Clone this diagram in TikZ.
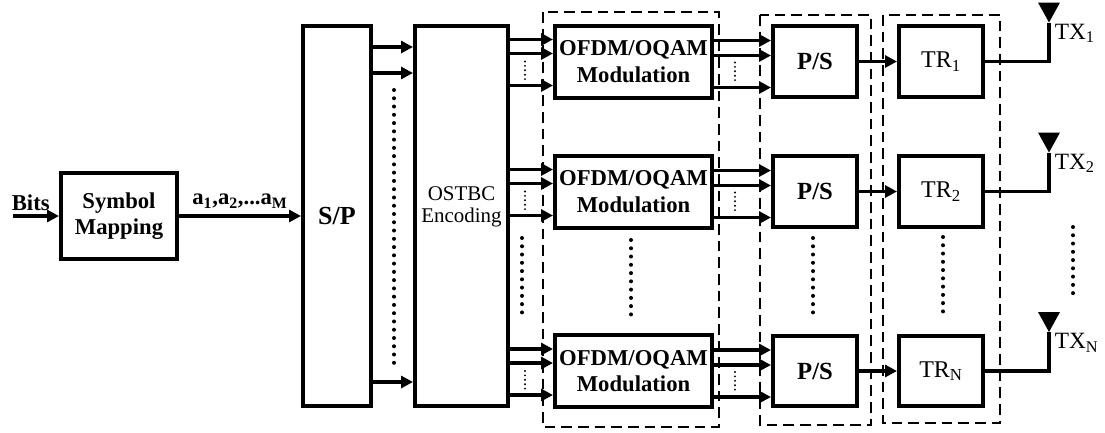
\documentclass[tikz,border=0pt]{standalone}
\usepackage{fontspec}
\setmainfont{Liberation Serif}
\usetikzlibrary{arrows.meta,calc}

\begin{document}
\begin{tikzpicture}[x=0.75pt,y=-0.75pt,line width=2.8pt,
    >={Triangle[length=9pt,width=9pt]},
    blk/.style={draw,line width=3pt,inner sep=0pt,align=center,
      font=\fontsize{17}{20}\selectfont\bfseries},
    lbl/.style={inner sep=0pt,font=\fontsize{17}{20}\selectfont\bfseries},
    grp/.style={draw,line width=2.2pt,dash pattern=on 8pt off 4.5pt},
    vdots/.style={line width=3pt,line cap=round,dash pattern=on 0pt off 6.2pt},
    sdots/.style={line width=1.6pt,line cap=round,dash pattern=on 0pt off 3.3pt}]

    \useasboundingbox (0,0) rectangle (1105,432);

    % input side
    \node[lbl,anchor=south west] (bits) at (10,213) {Bits};
    \coordinate (in) at (13,216);
    \node[blk,minimum width=87pt,minimum height=64.5pt] (map) at (119,216) {Symbol\\Mapping};
    \node[blk,minimum width=51pt,minimum height=285pt,
          font=\fontsize{19.5}{22}\selectfont\bfseries] (sp) at (337,216) {S/P};
    \node[blk,minimum width=69.75pt,minimum height=285pt] (enc) at (461.5,216) {};
    \node[inner sep=0pt,align=center,font=\fontsize{15.7}{16.5}\selectfont]
          (enctxt) at (461.5,207) {OSTBC\\Encoding};
    \node[lbl,anchor=south] (seq) at (240,210)
          {a\textsubscript{1},a\textsubscript{2},...a\textsubscript{M}};

    \draw[->] (in) -- (map);
    \draw[->] (map) -- (sp);
    \foreach \d in {-169,-143,166}
      \draw[->] ($(sp.east)+(0,\d)$) -- ($(enc.west)+(0,\d)$);

    % branches
    \foreach \n/\s/\y in {1/1/61.5, 2/2/191.5, 3/N/371}{
      \node[blk,minimum width=117.75pt,minimum height=54pt] (ofdm\n) at (633.5,\y) {OFDM/OQAM\\Modulation};
      \node[blk,minimum width=63pt,minimum height=53pt,
            font=\fontsize{18.5}{22}\selectfont\bfseries] (ps\n) at (815,\y) {P/S};
      \node[blk,minimum width=63pt,minimum height=53pt,
            font=\fontsize{18}{20}\selectfont] (tr\n) at (941,\y) {TR\textsubscript{\s}};
      \coordinate (ant\n) at (1049,\y-39);
      \node[lbl,anchor=west,font=\fontsize{17.5}{20}\selectfont] (tx\n) at (1053,\y-28) {TX\textsubscript{\s}};

      \foreach \d in {-22,-8,24}
        \draw[->] ($(enc.east |- ofdm\n.west)+(0,\d)$) -- ($(ofdm\n.west)+(0,\d)$);
      \foreach \d in {-21,-6,26}
        \draw[->] ($(ofdm\n.east)+(0,\d)$) -- ($(ps\n.west)+(0,\d)$);
      \draw[sdots] ($(ofdm\n.west)+(-28,0)$) -- ++(0,19);
      \draw[sdots] ($(ps\n.west)+(-36,1)$) -- ++(0,19);

      \draw[->] (ps\n) -- (tr\n);
      \draw (tr\n) -| (ant\n);
      \fill (ant\n) -- ++(-11,-20) -- ++(22,0) -- cycle;
    }

    % dotted columns
    \draw[vdots] (394,90) -- (394,367);
    \draw[vdots] (522,238) -- (522,313);
    \draw[vdots] (631,240) -- (631,315);
    \draw[vdots] (813,238) -- (813,313);
    \draw[vdots] (943,237) -- (943,312);
    \draw[vdots] (1073,227) -- (1073,300);

    % dashed groups
    \draw[grp] (543,12) rectangle (719,427);
    \draw[grp] (760,15) rectangle (871,425);
    \draw[grp] (883,15) rectangle (1000,423);

\end{tikzpicture}
\end{document}
